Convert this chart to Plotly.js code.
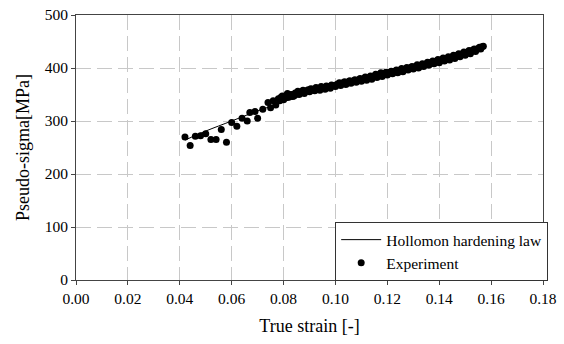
<!DOCTYPE html>
<html>
<head>
<meta charset="utf-8">
<script src="https://cdn.plot.ly/plotly-3.0.1.min.js"></script>
<style>html,body{margin:0;padding:0;background:#fff;}#chart{width:564px;height:344px;}</style>
</head>
<body>
<div id="chart"></div>
<script>
// Hollomon hardening law
const lawStrain = [0.042, 0.050, 0.060, 0.070, 0.080, 0.090, 0.100, 0.110, 0.120, 0.130, 0.140, 0.150, 0.157];
const lawStress = [264, 281, 300, 319, 336, 353, 368, 382, 395, 407, 419, 430, 438];

// Experiment points (first set)
const expStrainA = [0.042, 0.044, 0.046, 0.048, 0.050, 0.052, 0.054, 0.056, 0.058, 0.060,
  0.062, 0.064, 0.066, 0.067, 0.069, 0.070, 0.072, 0.074, 0.075, 0.076,
  0.077, 0.078, 0.079, 0.080, 0.081, 0.082, 0.083, 0.084, 0.085, 0.086,
  0.087, 0.088, 0.089, 0.090, 0.091, 0.092, 0.093, 0.094, 0.095, 0.096,
  0.097, 0.098, 0.099, 0.100, 0.101, 0.102, 0.103, 0.104, 0.105, 0.106,
  0.107, 0.108, 0.109, 0.110, 0.111, 0.112, 0.113, 0.114, 0.115, 0.116,
  0.117, 0.118, 0.119, 0.120, 0.121, 0.122, 0.123, 0.124, 0.125, 0.126,
  0.127, 0.128, 0.129, 0.130, 0.131, 0.132, 0.133, 0.134, 0.135, 0.136,
  0.137, 0.138, 0.139, 0.140, 0.141, 0.142, 0.143, 0.144, 0.145, 0.146,
  0.147, 0.148, 0.149, 0.150, 0.151, 0.152, 0.153, 0.154, 0.155, 0.156, 0.157];
const expStressA = [270, 254, 271, 272, 276, 265, 265, 284, 260, 297,
  290, 305, 300, 316, 318, 305, 322, 335, 325, 338,
  330, 342, 345, 340, 348, 345, 350, 347, 352, 350,
  355, 352, 357, 355, 360, 357, 362, 358, 363, 360,
  365, 362, 367, 365, 370, 367, 372, 369, 374, 371,
  376, 373, 378, 375, 380, 377, 382, 379, 385, 382,
  388, 384, 390, 387, 392, 389, 394, 391, 396, 393,
  398, 396, 401, 398, 403, 400, 405, 403, 408, 405,
  411, 408, 413, 410, 416, 413, 418, 415, 421, 418,
  424, 421, 427, 424, 430, 427, 434, 431, 437, 436, 441];

// Experiment points (second, interleaved set in the dense band)
const expStrainB = [0.0785, 0.0795, 0.0805, 0.0815, 0.0825, 0.0835, 0.0845, 0.0855, 0.0865, 0.0875,
  0.0885, 0.0895, 0.0905, 0.0915, 0.0925, 0.0935, 0.0945, 0.0955, 0.0965, 0.0975,
  0.0985, 0.0995, 0.1005, 0.1015, 0.1025, 0.1035, 0.1045, 0.1055, 0.1065, 0.1075,
  0.1085, 0.1095, 0.1105, 0.1115, 0.1125, 0.1135, 0.1145, 0.1155, 0.1165, 0.1175,
  0.1185, 0.1195, 0.1205, 0.1215, 0.1225, 0.1235, 0.1245, 0.1255, 0.1265, 0.1275,
  0.1285, 0.1295, 0.1305, 0.1315, 0.1325, 0.1335, 0.1345, 0.1355, 0.1365, 0.1375,
  0.1385, 0.1395, 0.1405, 0.1415, 0.1425, 0.1435, 0.1445, 0.1455, 0.1465, 0.1475,
  0.1485, 0.1495, 0.1505, 0.1515, 0.1525, 0.1535, 0.1545, 0.1555, 0.1565];
const expStressB = [338, 347, 344, 352, 349, 346, 353, 356, 353, 358,
  356, 359, 361, 358, 363, 361, 365, 362, 366, 364,
  368, 366, 369, 372, 370, 374, 371, 376, 374, 378,
  376, 380, 378, 383, 380, 385, 383, 388, 385, 391,
  387, 392, 390, 394, 392, 396, 394, 399, 396, 401,
  399, 403, 401, 406, 403, 408, 406, 411, 408, 413,
  411, 416, 413, 419, 416, 421, 419, 424, 422, 427,
  425, 430, 428, 433, 431, 436, 435, 439, 440];

const xTicks = [0, 0.02, 0.04, 0.06, 0.08, 0.10, 0.12, 0.14, 0.16, 0.18];
const xTickText = ['0.00','0.02','0.04','0.06','0.08','0.10','0.12','0.14','0.16','0.18'];
const yTicks = [0, 100, 200, 300, 400, 500];

const FONT = 'Liberation Serif';

const traces = [
  {x: lawStrain, y: lawStress, mode: 'lines', type: 'scatter', name: 'Hollomon hardening law',
   line: {color: '#000', width: 1, shape: 'spline'}},
  {x: expStrainA.concat(expStrainB), y: expStressA.concat(expStressB), mode: 'markers', type: 'scatter', name: 'Experiment',
   marker: {color: '#000', size: 7}}
];

function axisCommon() {
  return {
    showline: true, linecolor: '#444', linewidth: 1, mirror: true,
    ticks: 'outside', ticklen: 4, tickcolor: '#444',
    showgrid: true, gridcolor: '#c8c8c8', gridwidth: 1, griddash: '15px,6px',
    zeroline: false, tickfont: {family: FONT, size: 15.5, color: '#000'}
  };
}

const layout = {
  width: 564, height: 344,
  margin: {l: 76, r: 21, t: 15, b: 64},
  paper_bgcolor: '#fff', plot_bgcolor: '#fff',
  font: {family: FONT, color: '#000', size: 15.5},
  showlegend: true,
  xaxis: Object.assign(axisCommon(), {
    range: [0, 0.18], tickvals: xTicks, ticktext: xTickText,
    title: {text: 'True strain [-]', font: {family: FONT, size: 18}, standoff: 13}
  }),
  yaxis: Object.assign(axisCommon(), {
    range: [0, 500], tickvals: yTicks,
    title: {text: 'Pseudo-sigma[MPa]', font: {family: FONT, size: 18}, standoff: 10}
  }),
  legend: {
    x: 0.555, y: -0.004, xanchor: 'left', yanchor: 'bottom',
    bgcolor: '#fff', bordercolor: '#333', borderwidth: 1,
    font: {family: FONT, size: 15.5, color: '#000'},
    itemwidth: 40, tracegroupgap: 0
  }
};

Plotly.newPlot('chart', traces, layout, {displayModeBar: false, staticPlot: true});
</script>
</body>
</html>
